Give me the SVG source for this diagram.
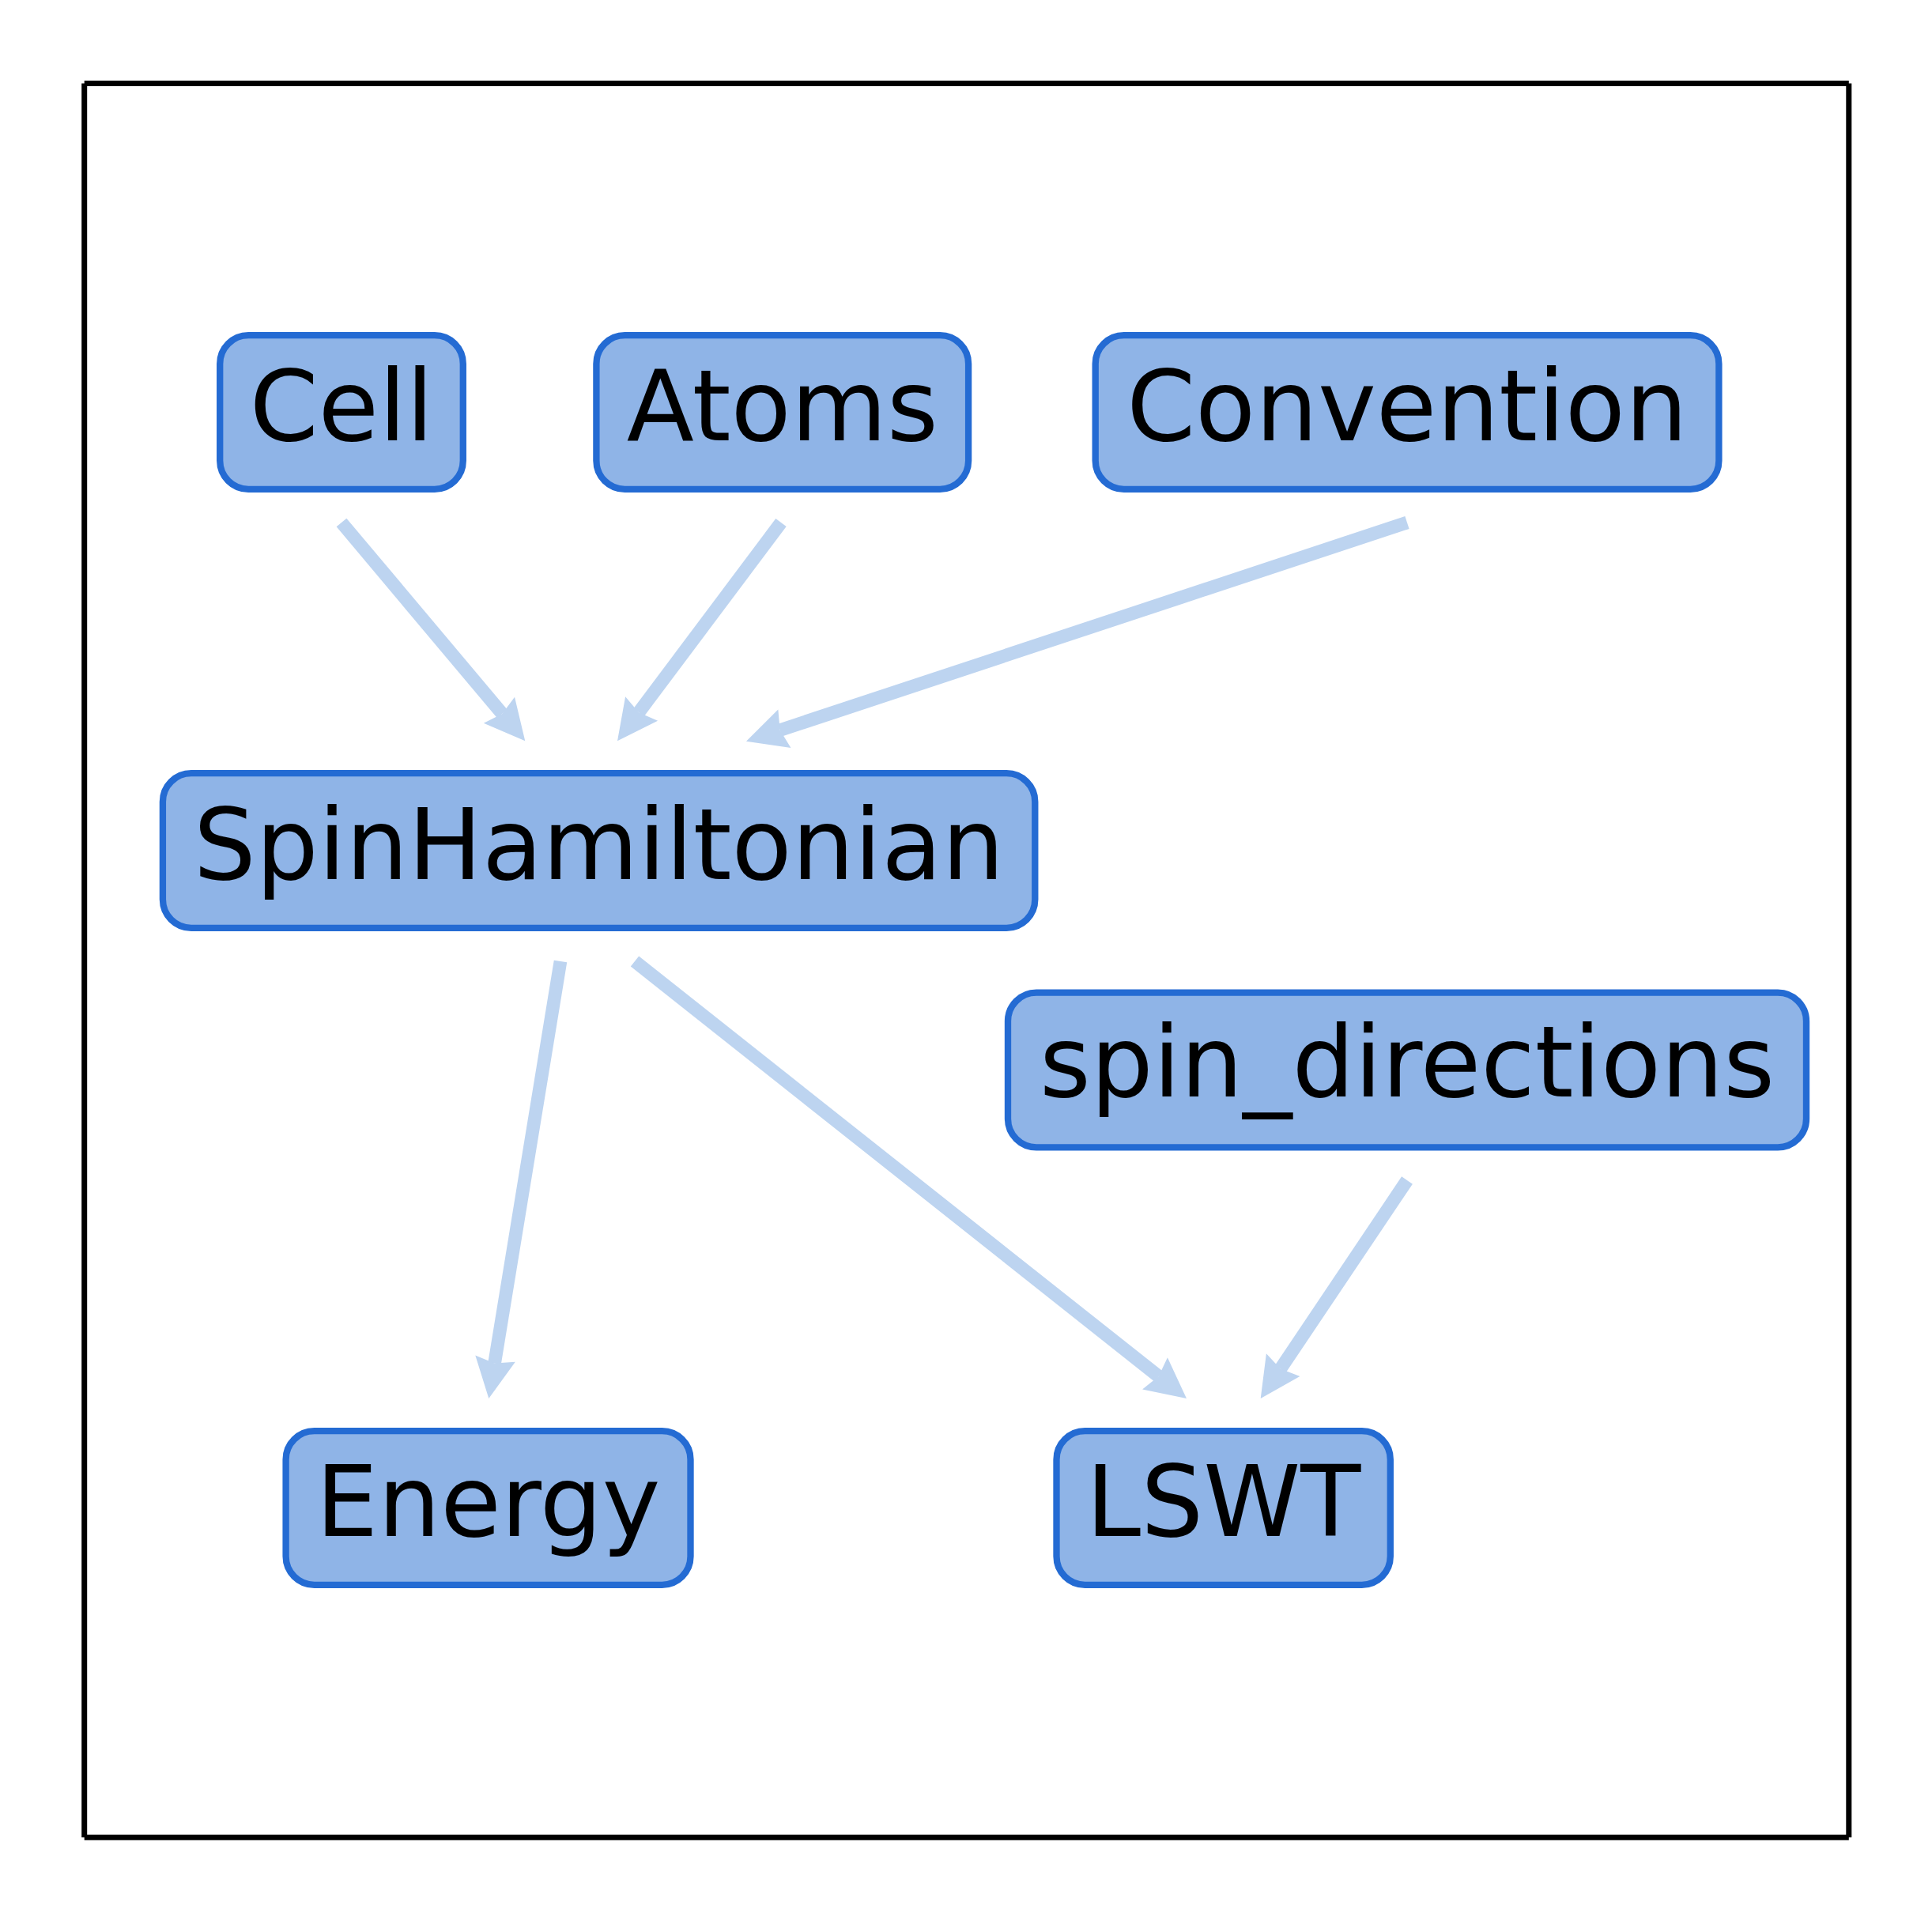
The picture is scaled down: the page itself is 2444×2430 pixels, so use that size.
<svg xmlns="http://www.w3.org/2000/svg" width="2444" height="2430" viewBox="0 0 2444 2430">
<style>
.frame{stroke:#000;stroke-width:7;stroke-linecap:butt;fill:none}
.box{fill:#8fb4e7;stroke:#246bd3;stroke-width:8.33}
.lbl{font-family:"DejaVu Sans",sans-serif;font-size:124.5px;fill:#000;text-anchor:middle}
.edge{stroke:#bdd4f0;stroke-width:16.67;stroke-linecap:butt;fill:none;marker-end:url(#head)}
</style>
<defs>
<marker id="head" viewBox="-60 -30 70 60" markerWidth="70" markerHeight="60" refX="-45" refY="0" orient="auto" markerUnits="userSpaceOnUse" overflow="visible">
<path d="M0,0 L-51,-25.6 L-45,0 L-51,25.6 Z" fill="#bdd4f0"/>
</marker>
</defs>
<rect width="2444" height="2430" fill="#fff"/>
<g id="frame">
<line class="frame" x1="106.7" y1="105.5" x2="2338.8" y2="105.5"/>
<line class="frame" x1="106.7" y1="2324.2" x2="2338.8" y2="2324.2"/>
<line class="frame" x1="106.7" y1="105.5" x2="106.7" y2="2324.2"/>
<line class="frame" x1="2338.8" y1="105.5" x2="2338.8" y2="2324.2"/>
</g>
<g id="connectors">
<path class="edge" d="M432,661 L635.3,902.9"/>
<path class="edge" d="M988,661 L808,901.3"/>
<path class="edge" d="M1780,661 L986.7,923.6"/>
<path class="edge" d="M709,1216 L625.6,1724.6"/>
<path class="edge" d="M803,1216 L1465.7,1741.1"/>
<path class="edge" d="M1780,1493 L1619.8,1731.6"/>
</g>
<g id="node-Cell">
<rect class="box" x="278.2" y="424.2" width="307.6" height="194.6" rx="36"/>
<text class="lbl" x="432" y="557">Cell</text>
</g>
<g id="node-Atoms">
<rect class="box" x="754.4" y="424.2" width="470.7" height="194.6" rx="36"/>
<text class="lbl" x="989.8" y="557">Atoms</text>
</g>
<g id="node-Convention">
<rect class="box" x="1385.7" y="424.2" width="788.7" height="194.6" rx="36"/>
<text class="lbl" x="1780" y="557">Convention</text>
</g>
<g id="node-SpinHamiltonian">
<rect class="box" x="205.9" y="978.2" width="1103.4" height="195.6" rx="36"/>
<text class="lbl" x="757.6" y="1111.5">SpinHamiltonian</text>
</g>
<g id="node-spin_directions">
<rect class="box" x="1275" y="1255.7" width="1010" height="195.6" rx="36"/>
<text class="lbl" x="1780" y="1387">spin_directions</text>
</g>
<g id="node-Energy">
<rect class="box" x="361.6" y="1810.2" width="511.9" height="194.6" rx="36"/>
<text class="lbl" x="617.5" y="1943">Energy</text>
</g>
<g id="node-LSWT">
<rect class="box" x="1336.5" y="1810.2" width="422.3" height="194.6" rx="36"/>
<text class="lbl" x="1547.6" y="1943">LSWT</text>
</g>
</svg>
